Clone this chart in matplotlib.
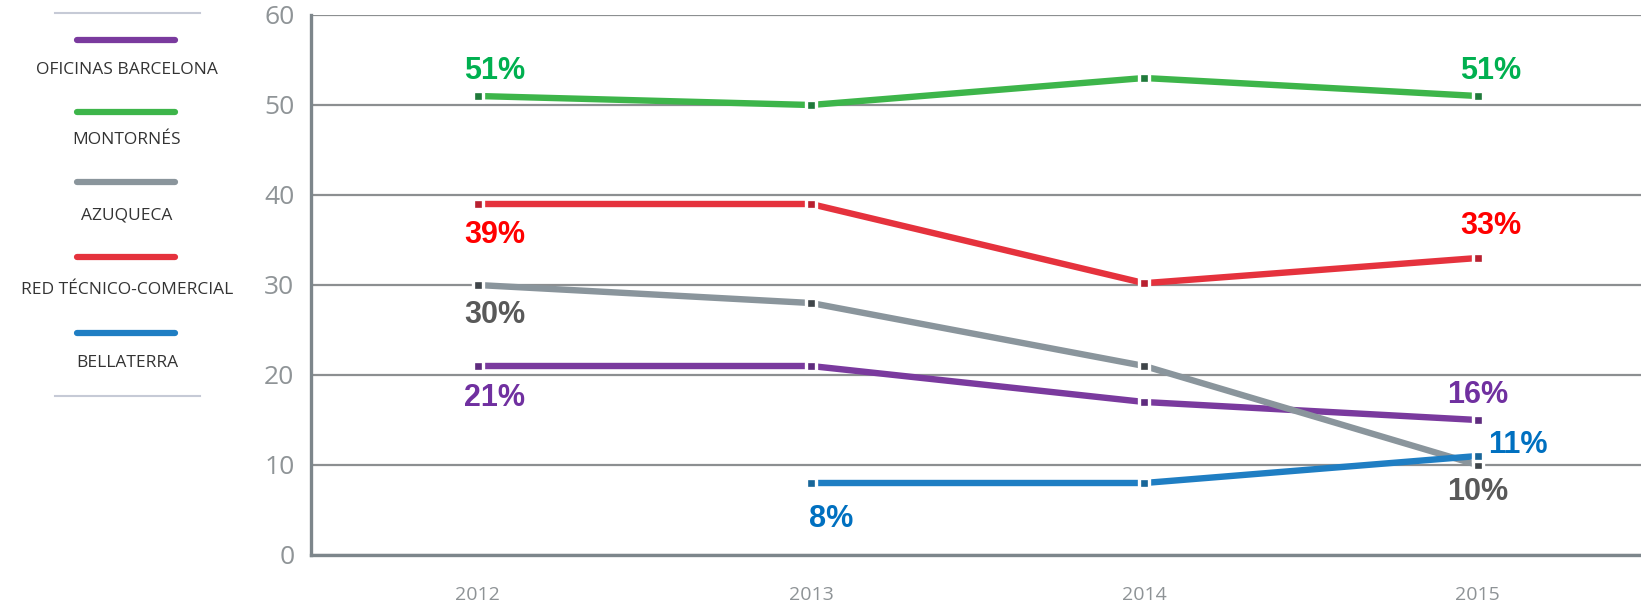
import numpy as np
import matplotlib.pyplot as plt
from matplotlib.lines import Line2D

years = [2012, 2013, 2014, 2015]

oficinas = [21, 21, 17, 15]
montornes = [51, 50, 53, 51]
azuqueca = [30, 28, 21, 10]
red_tecnico = [39, 39, 30.2, 33]
bellaterra = [np.nan, 8, 8, 11]

series_names = ["OFICINAS BARCELONA", "MONTORNÉS", "AZUQUECA",
                "RED TÉCNICO-COMERCIAL", "BELLATERRA"]

# value labels: (year, text)
lbl_oficinas = [(2012, "21%"), (2015, "16%")]
lbl_montornes = [(2012, "51%"), (2015, "51%")]
lbl_azuqueca = [(2012, "30%"), (2015, "10%")]
lbl_red = [(2012, "39%"), (2015, "33%")]
lbl_bellaterra = [(2013, "8%"), (2015, "11%")]

yticks = [0, 10, 20, 30, 40, 50, 60]

line_cols = ["#7a3a9e", "#3db54a", "#8a959c", "#e5323d", "#1f7ec3"]
mark_cols = ["#5e2b7e", "#1f7a3a", "#3f4549", "#b82030", "#186699"]
text_cols = ["#7030a0", "#00b050", "#595959", "#ff0000", "#0070c0"]

fig = plt.figure(figsize=(16.41, 6.09), dpi=100)
ax = fig.add_axes([311 / 1641, 1 - 555 / 609, 1 - 311 / 1641, 540 / 609])

data = [oficinas, montornes, azuqueca, red_tecnico, bellaterra]
for vals, lc, mc in zip(data, line_cols, mark_cols):
    ax.plot(years, vals, color=lc, lw=4.6, solid_capstyle="butt", zorder=3)
    ax.plot(years, vals, ls="none", marker="s", ms=7.5, mfc=mc,
            mec="white", mew=2.4, zorder=4)

lbl_font = dict(family=["Liberation Sans", "DejaVu Sans"], fontsize=22,
                fontweight="bold", ha="center", va="center", zorder=5)
# label offsets in data units (x, y)
offs = {
    0: [(0.05, -3.5), (0.0, 2.8)],
    1: [(0.05, 2.8), (0.04, 2.8)],
    2: [(0.05, -3.3), (0.0, -3.0)],
    3: [(0.05, -3.4), (0.04, 3.6)],
    4: [(0.06, -4.0), (0.12, 1.2)],
}
labels = [lbl_oficinas, lbl_montornes, lbl_azuqueca, lbl_red, lbl_bellaterra]
for i, (vals, lab) in enumerate(zip(data, labels)):
    for j, (yr, txt) in enumerate(lab):
        v = vals[years.index(yr)]
        dx, dy = offs[i][j]
        ax.text(yr + dx, v + dy, txt, color=text_cols[i], **lbl_font)

ax.set_xlim(2011.5, 2015.49)
ax.set_ylim(0, 60)
ax.set_yticks(yticks)
ax.set_xticks(years)
ax.set_yticklabels([str(t) for t in yticks], fontsize=19, color="#8f9497",
                   family=["Open Sans", "DejaVu Sans"])
ax.set_xticklabels([str(y) for y in years], fontsize=14, color="#8e9396",
                   family=["Open Sans", "DejaVu Sans"])
ax.tick_params(axis="y", length=0, pad=12)
ax.tick_params(axis="x", length=0, pad=22)
ax.grid(axis="y", color="#8c8f91", lw=1.6, zorder=1)
ax.set_axisbelow(True)
for s in ["top", "right"]:
    ax.spines[s].set_visible(False)
ax.spines["left"].set_color("#7d868b")
ax.spines["left"].set_linewidth(2.4)
ax.spines["bottom"].set_color("#7d868b")
ax.spines["bottom"].set_linewidth(2.4)

# legend drawn at left side
W, H = 1641, 609
def fx(px):
    return px / W
def fy(py):
    return 1 - py / H

fig.add_artist(Line2D([fx(55), fx(200)], [fy(13), fy(13)], color="#c6cad6", lw=1.5))
fig.add_artist(Line2D([fx(55), fx(200)], [fy(396), fy(396)], color="#c6cad6", lw=1.5))
leg_line_y = [40, 112, 182, 257, 333]
leg_text_y = [70, 140, 215, 290, 363]
for name, lc, ly, ty in zip(series_names, line_cols, leg_line_y, leg_text_y):
    fig.add_artist(Line2D([fx(77), fx(175)], [fy(ly), fy(ly)], color=lc,
                          lw=4.5, solid_capstyle="round"))
    fig.text(fx(127), fy(ty), name, ha="center", va="center", fontsize=12.5,
             color="#333333", family=["Open Sans", "DejaVu Sans"])

fig.savefig("out.png", dpi=100)
